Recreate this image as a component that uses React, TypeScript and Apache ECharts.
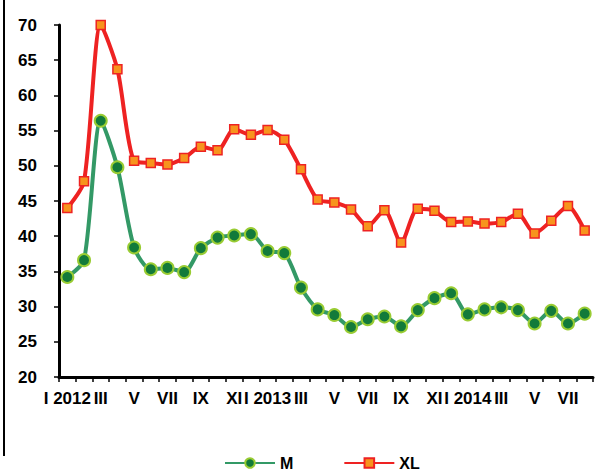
import React, { useEffect, useRef } from "react";
import * as echarts from "echarts";

const categories = [
  "I 2012", "II", "III", "IV", "V", "VI", "VII", "VIII", "IX", "X", "XI", "XII",
  "I 2013", "II", "III", "IV", "V", "VI", "VII", "VIII", "IX", "X", "XI", "XII",
  "I 2014", "II", "III", "IV", "V", "VI", "VII", "VIII",
];

const seriesM = [
  34.2, 36.6, 56.4, 49.8, 38.4, 35.3, 35.5, 34.9, 38.3, 39.8, 40.1, 40.3,
  37.9, 37.6, 32.7, 29.6, 28.8, 27.1, 28.2, 28.6, 27.2, 29.5, 31.2, 31.9,
  28.9, 29.6, 29.9, 29.5, 27.6, 29.4, 27.6, 29.0,
];

const seriesXL = [
  44.0, 47.8, 70.0, 63.7, 50.7, 50.4, 50.2, 51.1, 52.7, 52.2, 55.2, 54.4,
  55.1, 53.7, 49.5, 45.2, 44.8, 43.8, 41.4, 43.7, 39.1, 43.9, 43.6, 42.0,
  42.1, 41.8, 42.0, 43.2, 40.4, 42.2, 44.3, 40.8,
];

const yMin = 20;
const yMax = 70;
const yStep = 5;

export default function App() {
  const ref = useRef<HTMLDivElement>(null);
  useEffect(() => {
    if (!ref.current) return;
    const chart = echarts.init(ref.current, null, { renderer: "svg" });
    const font = "Arial, 'Liberation Sans', sans-serif";
    chart.setOption({
      animation: false,
      backgroundColor: "#ffffff",
      textStyle: { fontFamily: font },
      grid: { left: 59, right: 4, top: 25, bottom: 95, containLabel: false },
      legend: {
        left: 224,
        top: 455,
        padding: 0,
        itemWidth: 50,
        itemHeight: 12,
        itemGap: 50,
        textStyle: { fontFamily: font, fontWeight: "bold", fontSize: 16, color: "#000", lineHeight: 15 },
        data: ["M", "XL"],
      },
      xAxis: {
        type: "category",
        data: categories,
        boundaryGap: true,
        axisLine: { show: true, lineStyle: { color: "#000", width: 3 } },
        axisTick: { show: true, interval: 0, length: 5, lineStyle: { color: "#000", width: 1.5 } },
        axisLabel: {
          interval: 1,
          margin: 13,
          color: "#000",
          fontWeight: "bold",
          fontSize: 17,
          fontFamily: font,
        },
        splitLine: { show: false },
      },
      yAxis: {
        type: "value",
        min: yMin,
        max: yMax,
        interval: yStep,
        axisLine: { show: true, lineStyle: { color: "#000", width: 3 } },
        axisTick: { show: true, length: 5, lineStyle: { color: "#000", width: 1.5 } },
        axisLabel: {
          margin: 22,
          color: "#000",
          fontWeight: "bold",
          fontSize: 17,
          fontFamily: font,
        },
        splitLine: { show: false },
      },
      graphic: [
        {
          type: "line",
          shape: { x1: 4, y1: 0, x2: 4, y2: 456 },
          style: { stroke: "#000", lineWidth: 2 },
        },
      ],
      series: [
        {
          name: "M",
          type: "line",
          data: seriesM,
          smooth: 0.25,
          showAllSymbol: true,
          symbol: "circle",
          symbolSize: 12,
          lineStyle: { color: "#339966", width: 4 },
          itemStyle: { color: "#127a3a", borderColor: "#99cc33", borderWidth: 2 },
          z: 3,
        },
        {
          name: "XL",
          type: "line",
          data: seriesXL,
          smooth: 0.25,
          showAllSymbol: true,
          symbol: "rect",
          symbolSize: 9,
          lineStyle: { color: "#ee2222", width: 4 },
          itemStyle: { color: "#f7941d", borderColor: "#ee2222", borderWidth: 1.5 },
          z: 2,
        },
      ],
    });
    return () => chart.dispose();
  }, []);
  return (
    <div
      ref={ref}
      style={{ position: "absolute", left: 0, top: 0, width: 597, height: 472 }}
    />
  );
}
